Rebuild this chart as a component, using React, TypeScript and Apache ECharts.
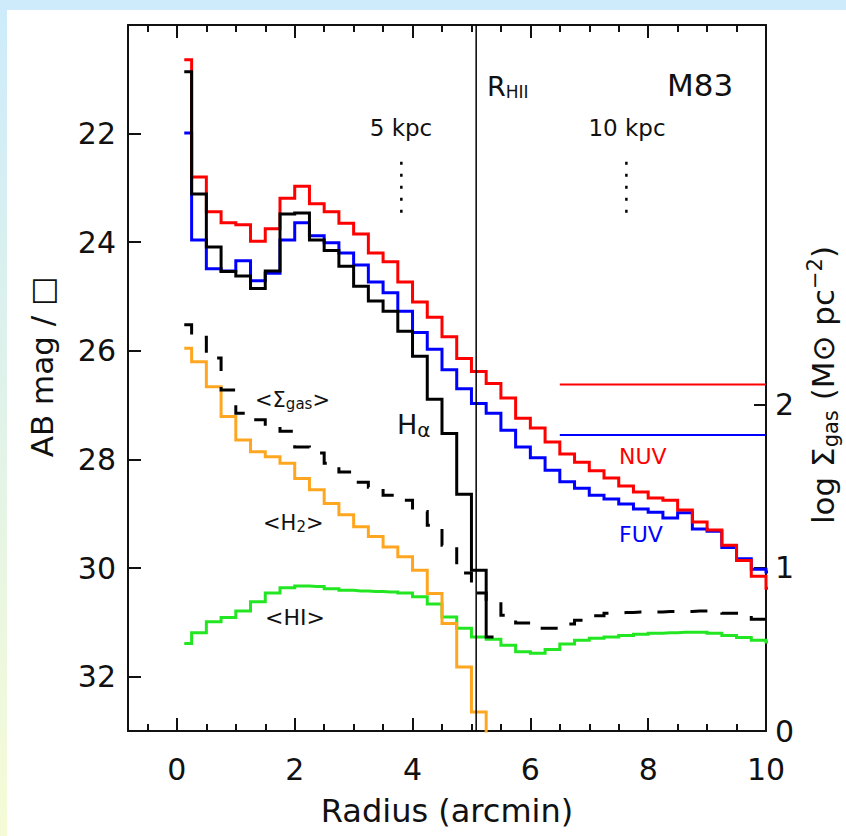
import React, { useEffect, useRef } from "react";
import * as echarts from "echarts";

const FONT = "DejaVu Sans";
const INK = "#111111";

// bin centres (arcmin)
const RADIUS = [
  0.125, 0.375, 0.625, 0.875, 1.125, 1.375, 1.625, 1.875, 2.125, 2.375,
  2.625, 2.875, 3.125, 3.375, 3.625, 3.875, 4.125, 4.375, 4.625, 4.875,
  5.125, 5.375, 5.625, 5.875, 6.125, 6.375, 6.625, 6.875, 7.125, 7.375,
  7.625, 7.875, 8.125, 8.375, 8.625, 8.875, 9.125, 9.375, 9.625, 9.875,
  10.125,
];

// AB mag / arcsec^2
const NUV = [
  20.64, 22.8, 23.44, 23.64, 23.68, 23.98, 23.75, 23.19, 22.97, 23.29,
  23.44, 23.65, 23.85, 24.2, 24.36, 24.73, 25.1, 25.38, 25.74, 26.14,
  26.38, 26.6, 26.87, 27.24, 27.42, 27.68, 27.9, 28.05, 28.21, 28.34,
  28.49, 28.6, 28.71, 28.75, 28.93, 29.15, 29.3, 29.58, 29.86, 30.15,
  30.37,
];
const FUV = [
  21.99, 23.96, 24.49, 24.53, 24.34, 24.71, 24.57, 23.96, 23.64, 23.88,
  24.01, 24.2, 24.42, 24.73, 24.93, 25.27, 25.66, 25.97, 26.35, 26.7,
  26.97, 27.15, 27.46, 27.77, 27.97, 28.2, 28.41, 28.53, 28.66, 28.73,
  28.82, 28.91, 28.97, 29.08, 28.98, 29.28, 29.32, 29.62, 29.83, 30.02,
  30.07,
];
const HALPHA = [
  20.86, 23.11, 24.09, 24.54, 24.62, 24.85, 24.53, 23.48, 23.46, 23.96,
  24.15, 24.44, 24.81, 25.08, 25.27, 25.64, 26.1, 26.89, 27.52, 28.64,
  30.04, 31.27,
];
const SIGMA_GAS = [
  25.52, 25.75, 26.13, 26.72, 27.15, 27.27, 27.38, 27.48, 27.77, 27.88,
  28.07, 28.23, 28.42, 28.51, 28.66, 28.75, 28.96, 29.21, 29.58, 30.09,
  30.46, 30.61, 30.87, 31.01, 31.11, 31.11, 31.03, 30.96, 30.88, 30.83,
  30.82, 30.81, 30.81, 30.8, 30.8, 30.79, 30.79, 30.83, 30.88, 30.94,
  30.98,
];
const H2 = [
  25.95, 26.2, 26.66, 27.21, 27.64, 27.86, 27.95, 28.07, 28.35, 28.56,
  28.81, 29.02, 29.24, 29.42, 29.61, 29.79, 30.04, 30.47, 31.02, 31.82,
  32.65, 34.0,
];
const HI = [
  31.39, 31.19, 30.99, 30.91, 30.79, 30.62, 30.46, 30.36, 30.33, 30.34,
  30.38, 30.41, 30.42, 30.43, 30.44, 30.46, 30.53, 30.66, 30.9, 31.11,
  31.27, 31.31, 31.42, 31.54, 31.57, 31.5, 31.4, 31.33, 31.29, 31.27,
  31.24, 31.22, 31.2, 31.19, 31.18, 31.18, 31.2, 31.24, 31.28, 31.33,
  31.36,
];

// axes
const X_MIN = -0.83;
const X_MAX = 10;
const MAG_MIN = 20;
const MAG_MAX = 33;
const GAS_MIN = 0;
const GAS_MAX = 4.331;
const MAJOR_X = [0, 2, 4, 6, 8, 10];
const MINOR_X = [-0.5, 0.5, 1, 1.5, 2.5, 3, 3.5, 4.5, 5, 5.5, 6.5, 7, 7.5, 8.5, 9, 9.5];
const MAG_TICKS = [22, 24, 26, 28, 30, 32];
const GAS_TICKS = [0, 1, 2];

// reference marks
const R_HII = 5.08;
const KPC_POS = [3.81, 7.63];
const KPC_SPAN = [22.52, 23.5];
const NUV_LEVEL = 26.62;
const FUV_LEVEL = 27.55;
const LEVEL_SPAN = [6.5, 10];

const pairs = (xs: number[], ys: number[]) => ys.map((y, i) => [xs[i], y]);

const stepSeries = (name: string, ys: number[], color: string, dash?: number[]) => ({
  name,
  type: "line",
  step: "middle",
  symbol: "none",
  silent: true,
  data: pairs(RADIUS, ys),
  lineStyle: { color, width: 3, type: dash ? dash : "solid", join: "miter", cap: "butt" },
});

const simpleLine = (data: number[][], color: string, width: number, dash?: number[]) => ({
  type: "line",
  symbol: "none",
  silent: true,
  data,
  lineStyle: { color, width, type: dash ? dash : "solid", cap: "butt" },
});

const lineStyle = { color: INK, width: 2 };

const xAxisBase = {
  type: "value",
  min: X_MIN,
  max: X_MAX,
  splitLine: { show: false },
};

const option: any = {
  animation: false,
  backgroundColor: "#ffffff",
  grid: { left: 128, top: 25, width: 638, height: 706, show: false },
  xAxis: [
    {
      ...xAxisBase,
      position: "bottom",
      axisLine: { show: true, onZero: false, lineStyle },
      axisTick: { show: true, inside: true, length: 13, customValues: MAJOR_X, lineStyle },
      axisLabel: { show: true, customValues: MAJOR_X, margin: 23, fontSize: 30, fontFamily: FONT, color: INK },
    },
    {
      ...xAxisBase,
      position: "bottom",
      axisLine: { show: false, onZero: false },
      axisTick: { show: true, inside: true, length: 7, customValues: MINOR_X, lineStyle },
      axisLabel: { show: false },
    },
    {
      ...xAxisBase,
      position: "top",
      axisLine: { show: true, onZero: false, lineStyle },
      axisTick: { show: true, inside: true, length: 13, customValues: MAJOR_X, lineStyle },
      axisLabel: { show: false },
    },
    {
      ...xAxisBase,
      position: "top",
      axisLine: { show: false, onZero: false },
      axisTick: { show: true, inside: true, length: 7, customValues: MINOR_X, lineStyle },
      axisLabel: { show: false },
    },
  ],
  yAxis: [
    {
      type: "value",
      position: "left",
      inverse: true,
      min: MAG_MIN,
      max: MAG_MAX,
      splitLine: { show: false },
      axisLine: { show: true, onZero: false, lineStyle },
      axisTick: { show: true, inside: true, length: 13, customValues: MAG_TICKS, lineStyle },
      axisLabel: { show: true, customValues: MAG_TICKS, margin: 12, fontSize: 30, fontFamily: FONT, color: INK },
    },
    {
      type: "value",
      position: "right",
      min: GAS_MIN,
      max: GAS_MAX,
      splitLine: { show: false },
      axisLine: { show: true, onZero: false, lineStyle },
      axisTick: { show: true, inside: true, length: 12, customValues: GAS_TICKS, lineStyle },
      axisLabel: { show: true, customValues: GAS_TICKS, margin: 9, fontSize: 30, fontFamily: FONT, color: INK },
    },
  ],
  series: [
    stepSeries("<HI>", HI, "#22e622"),
    stepSeries("<H2>", H2, "#ffa620"),
    stepSeries("<Σgas>", SIGMA_GAS, "#000000", [17, 16]),
    stepSeries("FUV", FUV, "#0000ff"),
    stepSeries("NUV", NUV, "#ff0000"),
    stepSeries("Hα", HALPHA, "#000000"),
    simpleLine([[R_HII, MAG_MIN], [R_HII, MAG_MAX]], "#000000", 1.5),
    simpleLine([[KPC_POS[0], KPC_SPAN[0]], [KPC_POS[0], KPC_SPAN[1]]], "#000000", 2.5, [3, 9]),
    simpleLine([[KPC_POS[1], KPC_SPAN[0]], [KPC_POS[1], KPC_SPAN[1]]], "#000000", 2.5, [3, 9]),
    simpleLine([[LEVEL_SPAN[0], NUV_LEVEL], [LEVEL_SPAN[1], NUV_LEVEL]], "#ff0000", 2),
    simpleLine([[LEVEL_SPAN[0], FUV_LEVEL], [LEVEL_SPAN[1], FUV_LEVEL]], "#0000ff", 2),
  ],
  graphic: [
    { type: "rect", z: -10, shape: { x: 0, y: 0, width: 846, height: 10 }, style: { fill: "#cdebfb" } },
    {
      type: "rect",
      z: -10,
      shape: { x: 0, y: 0, width: 7, height: 836 },
      style: {
        fill: new echarts.graphic.LinearGradient(0, 0, 0, 1, [
          { offset: 0, color: "#cdebfb" },
          { offset: 1, color: "#f5fbd6" },
        ]),
      },
    },
    // axis titles
    {
      type: "text", z: 50, x: 42, y: 367, rotation: Math.PI / 2,
      style: { text: "AB mag / □", fontSize: 31, fontFamily: FONT, fill: INK, align: "center", verticalAlign: "middle" },
    },
    {
      type: "text", z: 50, x: 447, y: 811,
      style: { text: "Radius (arcmin)", fontSize: 32, fontFamily: FONT, fill: INK, align: "center", verticalAlign: "middle" },
    },
    {
      type: "text", z: 50, x: 823, y: 385, rotation: Math.PI / 2,
      style: {
        text: "{n|log Σ}{s|gas}{n| (M⊙ pc}{p|−2}{n|)}",
        fill: INK, align: "center", verticalAlign: "middle",
        rich: {
          n: { fontSize: 31, lineHeight: 37, fontFamily: FONT, fill: INK },
          s: { fontSize: 21, lineHeight: 21, fontFamily: FONT, fill: INK, verticalAlign: "bottom" },
          p: { fontSize: 21, lineHeight: 21, fontFamily: FONT, fill: INK, verticalAlign: "top" },
        },
      },
    },
    // annotations
    {
      type: "text", z: 50, x: 487, y: 86,
      style: {
        text: "{n|R}{s|HII}", align: "left", verticalAlign: "middle",
        rich: {
          n: { fontSize: 27, lineHeight: 29, fontFamily: FONT, fill: INK },
          s: { fontSize: 17, lineHeight: 17, fontFamily: FONT, fill: INK, verticalAlign: "bottom" },
        },
      },
    },
    {
      type: "text", z: 50, x: 700, y: 85,
      style: { text: "M83", fontSize: 31, fontFamily: FONT, fill: INK, align: "center", verticalAlign: "middle" },
    },
    {
      type: "text", z: 50, x: 401, y: 128,
      style: { text: "5 kpc", fontSize: 23, fontFamily: FONT, fill: INK, align: "center", verticalAlign: "middle" },
    },
    {
      type: "text", z: 50, x: 627, y: 128,
      style: { text: "10 kpc", fontSize: 23, fontFamily: FONT, fill: INK, align: "center", verticalAlign: "middle" },
    },
    {
      type: "text", z: 50, x: 397, y: 424,
      style: {
        text: "{n|H}{s|α}", align: "left", verticalAlign: "middle",
        rich: {
          n: { fontSize: 27, lineHeight: 32, fontFamily: FONT, fill: INK },
          s: { fontSize: 20, lineHeight: 20, fontFamily: FONT, fill: INK, verticalAlign: "bottom" },
        },
      },
    },
    {
      type: "text", z: 50, x: 255, y: 400,
      style: {
        text: "{n|<Σ}{s|gas}{n|>}", align: "left", verticalAlign: "middle",
        rich: {
          n: { fontSize: 21, lineHeight: 23, fontFamily: FONT, fill: INK },
          s: { fontSize: 15, lineHeight: 15, fontFamily: FONT, fill: INK, verticalAlign: "bottom" },
        },
      },
    },
    {
      type: "text", z: 50, x: 263, y: 523,
      style: {
        text: "{n|<H}{s|2}{n|>}", align: "left", verticalAlign: "middle",
        rich: {
          n: { fontSize: 21, lineHeight: 22, fontFamily: FONT, fill: INK },
          s: { fontSize: 15, lineHeight: 15, fontFamily: FONT, fill: INK, verticalAlign: "bottom" },
        },
      },
    },
    {
      type: "text", z: 50, x: 265, y: 617,
      style: { text: "<HI>", fontSize: 22, fontFamily: FONT, fill: INK, align: "left", verticalAlign: "middle" },
    },
    {
      type: "text", z: 50, x: 619, y: 456,
      style: { text: "NUV", fontSize: 22, fontFamily: FONT, fill: "#ff0000", align: "left", verticalAlign: "middle" },
    },
    {
      type: "text", z: 50, x: 619, y: 534,
      style: { text: "FUV", fontSize: 22, fontFamily: FONT, fill: "#0000ff", align: "left", verticalAlign: "middle" },
    },
  ],
};

export default function App() {
  const ref = useRef<HTMLDivElement>(null);
  useEffect(() => {
    document.body.style.margin = "0";
    const chart = echarts.init(ref.current as HTMLDivElement, undefined, { renderer: "svg" });
    chart.setOption(option);
    return () => chart.dispose();
  }, []);
  return <div ref={ref} style={{ width: 846, height: 836 }} />;
}
